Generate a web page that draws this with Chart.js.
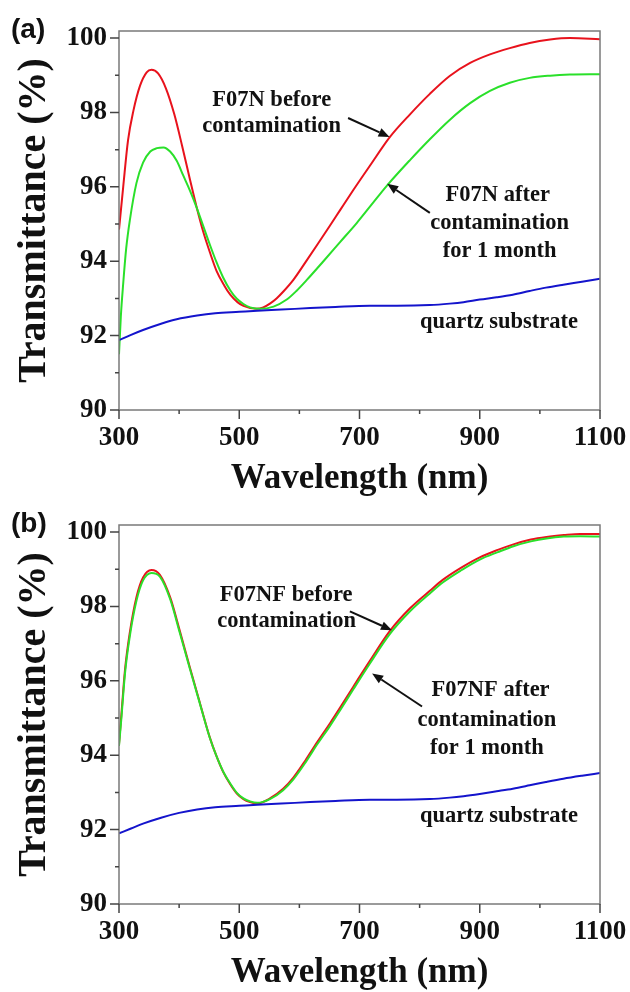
<!DOCTYPE html>
<html><head><meta charset="utf-8">
<script src="https://cdn.jsdelivr.net/npm/chart.js@4"></script>
<style>
html,body{margin:0;padding:0;background:#fff;width:630px;height:992px;overflow:hidden}
.panel{position:absolute;left:0;width:630px;height:496px}
#pa{top:0}#pb{top:494px}
</style></head><body>
<div class="panel" id="pa"><canvas id="ca" width="630" height="496"></canvas></div>
<div class="panel" id="pb"><canvas id="cb" width="630" height="496"></canvas></div>
<script>
// ---------- Tick values ----------
const xMajorTicks = [300, 500, 700, 900, 1100];
const xMinorTicks = [400, 600, 800, 1000];
const yMajorTicks = [90, 92, 94, 96, 98, 100];
const yMinorTicks = [91, 93, 95, 97, 99];

// ---------- Panel (a) ----------
const wlA_before = [300,307,315,324,335,346,354,365,378,392,405,418,430,440,452,462,475,485,497,507,529,540,551,562,573,590,610,630,651,668,690,717,751,784,817,850,884,917,950,983,1017,1050,1100];
const tA_before  = [94.85,96.0,97.25,98.05,98.72,99.08,99.15,99.05,98.65,97.95,97.1,96.2,95.4,94.8,94.2,93.75,93.35,93.1,92.9,92.8,92.72,92.76,92.86,93.0,93.18,93.5,93.97,94.45,94.96,95.38,95.92,96.56,97.35,97.95,98.5,98.98,99.33,99.56,99.73,99.87,99.96,100.0,99.97];

const wlA_after = [300,303,307,312,318,329,340,352,363,374,385,396,407,418,429,440,451,462,473,485,496,507,518,534,557,579,595,612,640,668,695,720,745,784,817,850,884,917,950,983,1017,1050,1100];
const tA_after  = [91.5,92.5,93.4,94.35,95.1,96.1,96.65,96.95,97.04,97.06,96.95,96.7,96.3,95.9,95.45,94.95,94.45,93.98,93.57,93.22,92.99,92.85,92.76,92.72,92.78,92.97,93.2,93.49,94.0,94.52,95.02,95.52,96.02,96.72,97.28,97.8,98.25,98.58,98.8,98.93,98.99,99.02,99.03];

const wlA_quartz = [300,320,340,370,396,430,460,500,530,570,618,660,717,762,817,850,873,900,928,955,983,1010,1039,1070,1100];
const tA_quartz  = [91.88,92.02,92.15,92.32,92.44,92.54,92.6,92.64,92.67,92.7,92.74,92.77,92.8,92.8,92.82,92.86,92.9,92.97,93.03,93.1,93.2,93.29,93.37,93.45,93.53];

// ---------- Panel (b) ----------
const wlB_before = [300,304,310,318,329,340,354,368,385,401,418,435,451,462,473,485,496,507,518,530,551,573,590,610,630,651,667,690,717,750,784,817,839,870,900,930,956,985,1011,1040,1067,1100];
const tB_before  = [94.3,95.1,96.3,97.3,98.25,98.78,98.98,98.85,98.25,97.35,96.35,95.38,94.48,93.98,93.56,93.22,92.97,92.82,92.74,92.7,92.84,93.1,93.4,93.86,94.36,94.86,95.26,95.85,96.53,97.33,97.95,98.42,98.72,99.05,99.32,99.52,99.67,99.8,99.87,99.92,99.95,99.95];

const wlB_after = [300,304,310,318,329,340,354,368,385,401,418,435,451,462,473,485,496,507,518,530,551,573,590,610,630,651,667,690,717,750,784,817,839,870,900,930,956,985,1011,1040,1067,1100];
const tB_after  = [94.25,95.0,96.2,97.2,98.15,98.7,98.9,98.8,98.2,97.3,96.32,95.36,94.47,93.98,93.57,93.24,92.99,92.84,92.76,92.72,92.82,93.06,93.35,93.8,94.3,94.79,95.19,95.78,96.46,97.25,97.87,98.35,98.65,98.98,99.26,99.46,99.62,99.75,99.83,99.88,99.89,99.88];

const wlB_quartz = [300,320,340,370,400,430,460,500,530,570,618,660,717,762,817,850,873,900,928,955,983,1010,1039,1070,1100];
const tB_quartz  = [91.9,92.03,92.16,92.32,92.45,92.54,92.6,92.64,92.67,92.7,92.74,92.77,92.8,92.8,92.82,92.86,92.9,92.96,93.03,93.1,93.19,93.28,93.37,93.45,93.52];

// ---------- Annotation texts ----------
const notesA = [
  {text:'F07N before', x:554, y:98.33},
  {text:'contamination', x:554, y:97.63},
  {text:'F07N after', x:930, y:95.78},
  {text:'contamination', x:933, y:95.03},
  {text:'for 1 month', x:933, y:94.27},
  {text:'quartz substrate', x:932, y:92.37}
];
const arrowsA = [
  {x1:681, y1:97.85, x2:750, y2:97.34},
  {x1:817, y1:95.30, x2:746, y2:96.08}
];
const notesB = [
  {text:'F07NF before', x:578, y:98.30},
  {text:'contamination', x:579, y:97.60},
  {text:'F07NF after', x:918, y:95.74},
  {text:'contamination', x:912, y:94.93},
  {text:'for 1 month', x:912, y:94.18},
  {text:'quartz substrate', x:932, y:92.35}
];
const arrowsB = [
  {x1:684, y1:97.87, x2:754, y2:97.36},
  {x1:804, y1:95.31, x2:721, y2:96.20}
];

const RED = '#e8121c', GREEN = '#2ae02a', BLUE = '#1414cc';
const SERIF = "'Liberation Serif', 'Times New Roman', serif";

function pts(xs, ys){ return xs.map((v,i)=>({x:v, y:ys[i]})); }

const framePlugin = {
  id: 'frame',
  afterDatasetsDraw(chart, args, opts){
    const {ctx, chartArea:a, scales:{x, y}} = chart;
    ctx.save();
    ctx.strokeStyle = '#7a7a7a'; ctx.lineWidth = 1.5;
    ctx.strokeRect(a.left, a.top, a.right - a.left, a.bottom - a.top);
    ctx.strokeStyle = '#444'; ctx.lineWidth = 1.5;
    ctx.beginPath();
    yMajorTicks.forEach(v=>{const p=y.getPixelForValue(v); ctx.moveTo(a.left-9,p); ctx.lineTo(a.left,p);});
    yMinorTicks.forEach(v=>{const p=y.getPixelForValue(v); ctx.moveTo(a.left-4,p); ctx.lineTo(a.left,p);});
    xMajorTicks.forEach(v=>{const p=x.getPixelForValue(v); ctx.moveTo(p,a.bottom); ctx.lineTo(p,a.bottom+9);});
    xMinorTicks.forEach(v=>{const p=x.getPixelForValue(v); ctx.moveTo(p,a.bottom); ctx.lineTo(p,a.bottom+4);});
    ctx.stroke();
    // panel label
    ctx.fillStyle = '#111';
    ctx.font = "bold 28px 'Liberation Sans', Arial, sans-serif";
    ctx.textAlign = 'left'; ctx.textBaseline = 'middle';
    ctx.fillText(opts.label, 11, 30);
    // notes
    ctx.font = "bold 22.5px " + SERIF;
    ctx.textAlign = 'center';
    opts.notes.forEach(n=>ctx.fillText(n.text, x.getPixelForValue(n.x), y.getPixelForValue(n.y)));
    // arrows
    ctx.strokeStyle = '#111'; ctx.lineWidth = 2;
    opts.arrows.forEach(ar=>{
      const x1=x.getPixelForValue(ar.x1), y1=y.getPixelForValue(ar.y1);
      const x2=x.getPixelForValue(ar.x2), y2=y.getPixelForValue(ar.y2);
      const ang=Math.atan2(y2-y1,x2-x1), L=11, W=4.5;
      const bx=x2-L*Math.cos(ang), by=y2-L*Math.sin(ang);
      ctx.beginPath(); ctx.moveTo(x1,y1); ctx.lineTo(bx,by); ctx.stroke();
      ctx.beginPath();
      ctx.moveTo(x2,y2);
      ctx.lineTo(bx+W*Math.sin(ang), by-W*Math.cos(ang));
      ctx.lineTo(bx-W*Math.sin(ang), by+W*Math.cos(ang));
      ctx.closePath(); ctx.fillStyle='#111'; ctx.fill();
    });
    ctx.restore();
  }
};

function makeChart(id, label, sets, notes, arrows){
  const ds = sets.map(s=>({
    data: pts(s.x, s.y), borderColor: s.c, borderWidth: 2, pointRadius: 0,
    fill: false, tension: 0.4, cubicInterpolationMode: 'monotone', order: s.o
  }));
  return new Chart(document.getElementById(id), {
    type: 'line',
    data: {datasets: ds},
    plugins: [framePlugin],
    options: {
      responsive: false, animation: false, devicePixelRatio: 1,
      layout: {padding: {top: 31, right: 30, bottom: 0, left: 0}},
      plugins: {legend: {display: false}, tooltip: {enabled: false}, frame: {label, notes, arrows}},
      scales: {
        x: {
          type: 'linear', min: 300, max: 1100,
          afterFit(s){ s.height = 86; s.paddingLeft = 0; s.paddingRight = 0; },
          afterBuildTicks(s){ s.ticks = xMajorTicks.map(v=>({value:v})); },
          grid: {display: false, drawTicks: false},
          border: {display: false},
          ticks: {color: '#111', padding: 12, maxRotation: 0, autoSkip: false,
                  font: {family: SERIF, size: 27, weight: 'bold'}, callback: v=>String(v)},
          title: {display: true, text: 'Wavelength (nm)', color: '#111',
                  font: {family: SERIF, size: 35, weight: 'bold', lineHeight: 1}, padding: {top: 2, bottom: 0}}
        },
        y: {
          type: 'linear', min: 90, max: 100.19,
          afterFit(s){ s.width = 119; s.paddingTop = 0; s.paddingBottom = 0; },
          afterBuildTicks(s){ s.ticks = yMajorTicks.map(v=>({value:v})); },
          grid: {display: false, drawTicks: false},
          border: {display: false},
          ticks: {color: '#111', padding: 12, autoSkip: false,
                  font: {family: SERIF, size: 27, weight: 'bold'}, callback: v=>String(v)},
          title: {display: true, text: 'Transmittance (%)', color: '#111',
                  font: {family: SERIF, size: 40, weight: 'bold', lineHeight: 1}, padding: {top: 15, bottom: 0}}
        }
      }
    }
  });
}

makeChart('ca', '(a)', [
  {x: wlA_before, y: tA_before, c: RED, o: 2},
  {x: wlA_after, y: tA_after, c: GREEN, o: 1},
  {x: wlA_quartz, y: tA_quartz, c: BLUE, o: 0}
], notesA, arrowsA);

makeChart('cb', '(b)', [
  {x: wlB_before, y: tB_before, c: RED, o: 2},
  {x: wlB_after, y: tB_after, c: GREEN, o: 1},
  {x: wlB_quartz, y: tB_quartz, c: BLUE, o: 0}
], notesB, arrowsB);
</script>
</body></html>
